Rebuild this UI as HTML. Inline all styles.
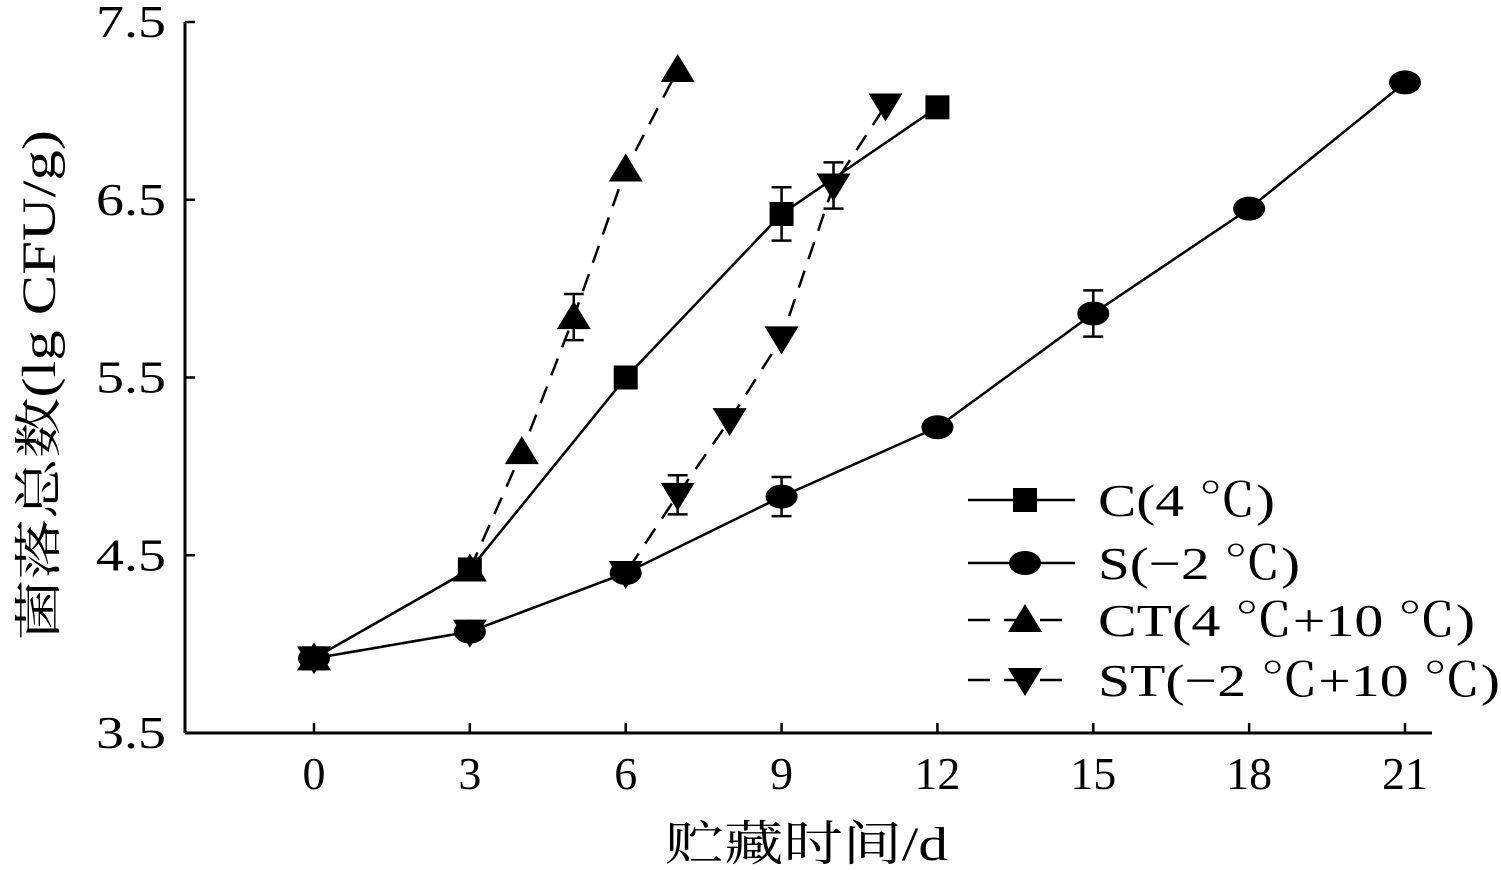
<!DOCTYPE html>
<html><head><meta charset="utf-8"><style>
html,body{margin:0;padding:0;background:#fff;}
svg{display:block;font-family:"Liberation Serif","Noto Serif CJK SC",serif;}
</style></head><body>
<svg id="chart" width="1501" height="870" viewBox="0 0 1501 870">
<g id="axes"></g>
<g id="series"></g>
<g id="legend"></g>
</svg>
<script>
const xTicks=[0,3,6,9,12,15,18,21];
const yTicks=[3.5,4.5,5.5,6.5,7.5];
const yTickLabels=["3.5","4.5","5.5","6.5","7.5"];
const cDays=[0,3,6,9,12];
const cVals=[3.92,4.42,5.5,6.42,7.02];
const cErr=[0,0,0,0.15,0];
const sDays=[0,3,6,9,12,15,18,21];
const sVals=[3.92,4.07,4.4,4.83,5.22,5.86,6.45,7.16];
const sErr=[0,0,0,0.11,0,0.13,0,0];
const ctDays=[0,3,4,5,6,7];
const ctVals=[3.92,4.42,5.08,5.84,6.67,7.23];
const ctErr=[0,0,0,0.13,0,0];
const stDays=[0,3,6,7,8,9,10,11];
const stVals=[3.92,4.07,4.4,4.84,5.26,5.72,6.58,7.03];
const stErr=[0,0,0,0.11,0,0,0.13,0];
const legendLabels=["C(4 ℃)","S(−2 ℃)","CT(4 ℃+10 ℃)","ST(−2 ℃+10 ℃)"];

const NS="http://www.w3.org/2000/svg";
const xs=d=>314+d*(1405-314)/21;
const ys=v=>733-(v-3.5)*(733-22)/4;
function el(tag,attrs,parent,text){const e=document.createElementNS(NS,tag);for(const k in attrs)e.setAttribute(k,attrs[k]);if(text!==undefined)e.textContent=text;parent.appendChild(e);return e;}
const axes=document.getElementById('axes');
let a=el('line',{x1:185,y1:22,x2:185,y2:733,stroke:'#000','stroke-width':3},axes);

a=el('line',{x1:185,y1:733,x2:1432,y2:733,stroke:'#000','stroke-width':3},axes);

xTicks.forEach(t=>{
 let l=el('line',{x1:xs(t),y1:733,x2:xs(t),y2:723,stroke:'#000','stroke-width':2.5},axes);
 
 let tx=el('text',{x:xs(t),y:789,'font-size':46,'text-anchor':'middle'},axes,String(t));
 
});
yTicks.forEach((t,i)=>{
 let l=el('line',{x1:185,y1:ys(t),x2:195,y2:ys(t),stroke:'#000','stroke-width':2.5},axes);
 
 let tx=el('text',{x:96,y:ys(t)+15,'font-size':46,textLength:70,lengthAdjust:'spacingAndGlyphs'},axes,yTickLabels[i]);
 
});
let xt=el('text',{x:665,y:860,'font-size':48,textLength:283,lengthAdjust:'spacingAndGlyphs'},axes,'贮藏时间/d');

let yt=el('text',{x:-255,y:0,'font-size':48,textLength:510,lengthAdjust:'spacingAndGlyphs',transform:'translate(55,385) rotate(-90)'},axes,'菌落总数(lg CFU/g)');


function marker(type,x,y,parent){
 let m;
 if(type==='square')m=el('rect',{x:x-12,y:y-12,width:24,height:24,fill:'#000'},parent);
 else if(type==='circle')m=el('ellipse',{cx:x,cy:y,rx:16,ry:12,fill:'#000'},parent);
 else if(type==='up')m=el('polygon',{points:`${x-17},${y+12} ${x+17},${y+12} ${x},${y-16}`,fill:'#000'},parent);
 else m=el('polygon',{points:`${x-17},${y-12} ${x+17},${y-12} ${x},${y+16}`,fill:'#000'},parent);
 return m;
}
const ser=document.getElementById('series');
function drawSeries(name,days,vals,errs,type,dash){
 const g=el('g',{},ser);
 
 const pts=days.map((d,i)=>xs(d)+','+ys(vals[i])).join(' ');
 const pl=el('polyline',{points:pts,fill:'none',stroke:'#000','stroke-width':2.5,'stroke-dasharray':dash},g);
 
 days.forEach((d,i)=>{
  if(errs[i]>0){
   const x=xs(d),y1=ys(vals[i]+errs[i]),y2=ys(vals[i]-errs[i]);
   const eb=el('path',{d:`M${x},${y1}V${y2}M${x-10},${y1}H${x+10}M${x-10},${y2}H${x+10}`,stroke:'#000','stroke-width':2.5,fill:'none'},g);
   
  }
  const m=marker(type,xs(d),ys(vals[i]),g);
  
 });
}
drawSeries('series-st',stDays,stVals,stErr,'down','18,12');
drawSeries('series-ct',ctDays,ctVals,ctErr,'up','18,12');
drawSeries('series-s',sDays,sVals,sErr,'circle','none');
drawSeries('series-c',cDays,cVals,cErr,'square','none');

const lg=document.getElementById('legend');
const types=['square','circle','up','down'],dashes=['none','none','22,14','22,14'],rowsY=[500,563,620,680],lens=[177,202,377,402];
legendLabels.forEach((lab,i)=>{
 const g=el('g',{},lg);
 
 el('line',{x1:968,y1:rowsY[i],x2:1075,y2:rowsY[i],stroke:'#000','stroke-width':2.5,'stroke-dasharray':dashes[i]},g);
 marker(types[i],1025,rowsY[i],g);
 el('text',{x:1098,y:rowsY[i]+16,'font-size':46,textLength:lens[i],lengthAdjust:'spacingAndGlyphs'},g,lab);
});
</script>
</body></html>
